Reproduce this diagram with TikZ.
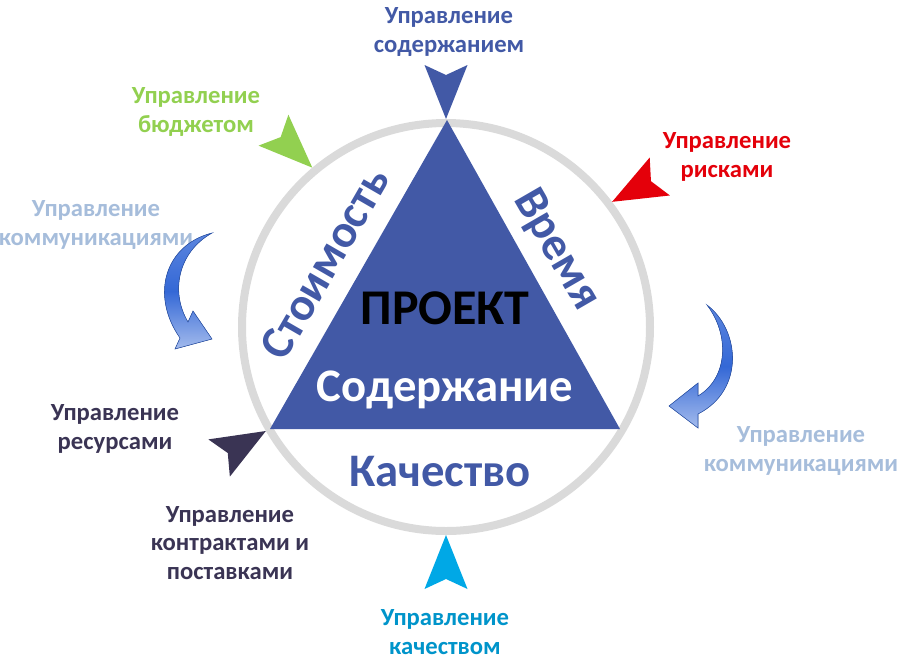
\documentclass[tikz,border=0pt]{standalone}
\usepackage{fontspec}
\setmainfont{Carlito}
\usetikzlibrary{positioning}
\definecolor{projblue}{RGB}{66,89,166}
\definecolor{ringgray}{RGB}{218,218,218}
\definecolor{budgetgreen}{RGB}{146,208,80}
\definecolor{riskred}{RGB}{228,0,10}
\definecolor{commblue}{RGB}{166,189,219}
\definecolor{arrowblue}{RGB}{52,104,214}
\definecolor{darkviolet}{RGB}{58,52,84}
\definecolor{qualcyan}{RGB}{0,168,230}
\newcommand{\pointer}[3]{\fill[#3, shift={(#1)}, rotate=#2] (0,0) -- (-54,21.5) -- (-44,0) -- (-54,-21.5) -- cycle;}

\begin{document}
\begin{tikzpicture}[x=0.75pt, y=-0.75pt,
  lbl/.style={font=\bfseries\fontsize{18.5}{21.5}\selectfont, align=center},
  big/.style={font=\bfseries\fontsize{35}{40}\selectfont, text=projblue}]
  \useasboundingbox (0,0) rectangle (897,662);
  \node (ring) [circle, draw=ringgray, line width=6pt, minimum size=306pt] at (446,327) {};
  \coordinate (apex) at (447,120);
  \coordinate (lcorner) at (270,429);
  \coordinate (rcorner) at (620,429);
  \fill[projblue] (apex) -- (lcorner) -- (rcorner) -- cycle;
  % texts in the circle
  \node (project) [big, text=black, font=\bfseries\fontsize{37.5}{40}\selectfont] at (445,308) {ПРОЕКТ};
  \node (scope) [big, text=white] at (445,390) {Содержание};
  \node (quality) [big] at (440,472) {Качество};
  \node (cost) [big, rotate=60] at (325,263) {Стоимость};
  \node (time) [big, rotate=-60] at (556,250) {Время};
  % labels
  \node (mcontent) [lbl, text=projblue] at (449,32) {Управление\\содержанием};
  \node (mbudget) [lbl, text=budgetgreen] at (196,112) {Управление\\бюджетом};
  \node (mrisk) [lbl, text=riskred] at (727,157) {Управление\\рисками};
  \node (mcommleft) [lbl, text=commblue] at (96,225) {Управление\\коммуникациями};
  \node (mresource) [lbl, text=darkviolet] at (115,429) {Управление\\ресурсами};
  \node (mcontract) [lbl, text=darkviolet] at (230,543) {Управление\\контрактами и\\поставками};
  \node (mquality) [lbl, text=qualcyan!88!black] at (445,632) {Управление\\качеством};
  \node (mcommright) [lbl, text=commblue] at (801,451) {Управление\\коммуникациями};
  % pointers
  \pointer{ring.90}{-90}{projblue}
  \pointer{ring.130}{-44}{budgetgreen}
  \pointer{ring.37}{-152}{riskred}
  \pointer{ring.210}{30}{darkviolet}
  \pointer{ring.270}{90}{qualcyan}
  % curved arrows
  \fill[top color=arrowblue!80!white, bottom color=arrowblue!45!white, middle color=arrowblue, draw=arrowblue!80!black, line width=0.4pt]
    (212,233) .. controls (165,245) and (150,295) .. (180,338) -- (175,349) -- (212,339) -- (193,311)
    -- (188,322) .. controls (170,292) and (178,252) .. (212,233) -- cycle;
  \fill[top color=arrowblue!80!white, bottom color=arrowblue!45!white, middle color=arrowblue, draw=arrowblue!80!black, line width=0.4pt]
    (707,305) .. controls (740,330) and (745,390) .. (698,414) -- (698,428) -- (669,406) -- (698,383)
    -- (698,396) .. controls (728,378) and (730,335) .. (707,305) -- cycle;
\end{tikzpicture}
\end{document}
